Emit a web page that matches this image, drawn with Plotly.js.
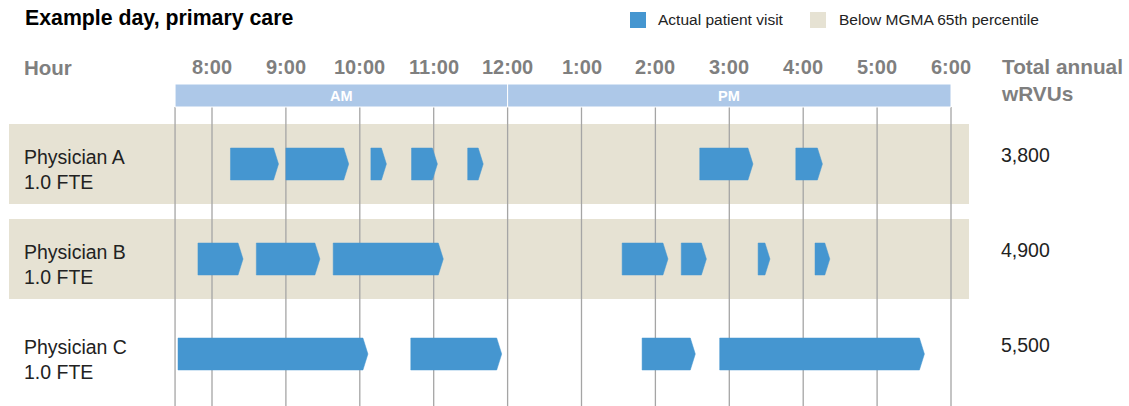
<!DOCTYPE html>
<html>
<head>
<meta charset="utf-8">
<script src="https://cdn.plot.ly/plotly-3.0.1.min.js"></script>
<style>
html,body{margin:0;padding:0;background:#fff;}
#chart{width:1129px;height:406px;}
</style>
</head>
<body>
<div id="chart"></div>
<script>
// ---- Data ----
const physicians = ['Physician A', 'Physician B', 'Physician C'];
const fteLabels = ['1.0 FTE', '1.0 FTE', '1.0 FTE'];
const totalWRVUs = ['3,800', '4,900', '5,500'];
const belowMGMA = [true, true, false];

const hourValues = [8, 9, 10, 11, 12, 13, 14, 15, 16, 17, 18];
const hourLabels = ['8:00', '9:00', '10:00', '11:00', '12:00', '1:00', '2:00', '3:00', '4:00', '5:00', '6:00'];
const dayStart = 7.5;

const periodLabels = ['AM', 'PM'];
const periodStart = [7.5, 12];
const periodEnd = [12, 18];

// visit start / end times (decimal hours, 24h clock)
const visitStartA = [8.25, 9.0, 10.15, 10.7, 11.46, 14.6, 15.9];
const visitEndA   = [8.9, 9.85, 10.36, 11.05, 11.67, 15.32, 16.26];
const visitStartB = [7.81, 8.6, 9.64, 13.55, 14.35, 15.39, 16.16];
const visitEndB   = [8.42, 9.46, 11.13, 14.17, 14.69, 15.55, 16.36];
const visitStartC = [7.54, 10.69, 13.82, 14.87];
const visitEndC   = [10.11, 11.92, 14.54, 17.64];

const visitStarts = [visitStartA, visitStartB, visitStartC];
const visitEnds = [visitEndA, visitEndB, visitEndC];

// ---- Style ----
const BLUE = '#4596d0';
const BEIGE = '#e6e2d3';
const AMPM = '#adc8e8';
const GRID = '#a5a5a5';
const HEAD = '#7f7f7f';
const FONT = '"Liberation Sans", Arial, Helvetica, sans-serif';

const W = 1129, H = 406;
const pxPerHour = 73.9;
const xMin = 8 - 212 / pxPerHour;
const xMax = xMin + W / pxPerHour;
const rowPx = 95, row0Px = 164;
const yTop = -row0Px / rowPx;
const yBot = yTop + H / rowPx;
const py = p => (p - row0Px) / rowPx;   // layout helper: pixel row -> y units

const tip = 5 / pxPerHour;
const half = 16 / rowPx;

// ---- Traces: arrow-shaped visits ----
const traces = [];
visitStarts.forEach((starts, r) => {
  const xs = [], ys = [];
  starts.forEach((s, i) => {
    const e = visitEnds[r][i];
    const b = Math.max(s, e - tip);
    xs.push(s, b, e, b, s, s, null);
    ys.push(r - half, r - half, r, r + half, r + half, r - half, null);
  });
  traces.push({
    type: 'scatter', mode: 'lines', x: xs, y: ys,
    fill: 'toself', fillcolor: BLUE,
    line: {color: BLUE, width: 0.5},
    hoverinfo: 'skip', showlegend: false
  });
});

// ---- Shapes ----
const shapes = [];
belowMGMA.forEach((b, r) => {
  if (b) shapes.push({type: 'rect', layer: 'below', xref: 'paper', yref: 'y',
    x0: 9 / W, x1: 969 / W, y0: r - 0.42, y1: r + 0.42, fillcolor: BEIGE, line: {width: 0}});
});
[dayStart].concat(hourValues).forEach(h => {
  shapes.push({type: 'line', layer: 'below', xref: 'x', yref: 'y',
    x0: h, x1: h, y0: py(107), y1: yBot + 0.1, line: {color: GRID, width: 1.3}});
});
periodLabels.forEach((p, i) => {
  shapes.push({type: 'rect', layer: 'below', xref: 'x', yref: 'y',
    x0: periodStart[i], x1: periodEnd[i], y0: py(84), y1: py(107),
    fillcolor: AMPM, line: {color: '#ffffff', width: 1}});
});
// legend swatches
shapes.push({type: 'rect', xref: 'paper', yref: 'paper', x0: 630 / W, x1: 646 / W,
  y0: 1 - 28 / H, y1: 1 - 12 / H, fillcolor: BLUE, line: {width: 0}});
shapes.push({type: 'rect', xref: 'paper', yref: 'paper', x0: 810 / W, x1: 826 / W,
  y0: 1 - 28 / H, y1: 1 - 12 / H, fillcolor: BEIGE, line: {width: 0}});

// ---- Annotations ----
const ann = [];
ann.push({text: '<b>Example day, primary care</b>', xref: 'paper', yref: 'paper',
  x: 23 / W, y: 1 - 18 / H, xanchor: 'left', yanchor: 'middle', showarrow: false,
  font: {family: FONT, size: 21.3, color: '#000'}});
ann.push({text: 'Actual patient visit', xref: 'paper', yref: 'paper',
  x: 656 / W, y: 1 - 19 / H, xanchor: 'left', yanchor: 'middle', showarrow: false,
  font: {family: FONT, size: 15.5, color: '#222'}});
ann.push({text: 'Below MGMA 65th percentile', xref: 'paper', yref: 'paper',
  x: 837 / W, y: 1 - 19 / H, xanchor: 'left', yanchor: 'middle', showarrow: false,
  font: {family: FONT, size: 15.5, color: '#222'}});
ann.push({text: '<b>Hour</b>', xref: 'paper', yref: 'y', x: 22 / W, y: py(67),
  xanchor: 'left', yanchor: 'middle', showarrow: false,
  font: {family: FONT, size: 20.5, color: HEAD}});
ann.push({text: '<b>Total annual<br>wRVUs</b>', xref: 'paper', yref: 'y', x: 999 / W, y: py(80),
  xanchor: 'left', yanchor: 'middle', align: 'left', showarrow: false,
  font: {family: FONT, size: 20.8, color: HEAD}});
hourValues.forEach((h, i) => {
  ann.push({text: '<b>' + hourLabels[i] + '</b>', xref: 'x', yref: 'y', x: h, y: py(67),
    xanchor: 'center', yanchor: 'middle', showarrow: false,
    font: {family: FONT, size: 20, color: HEAD}});
});
periodLabels.forEach((p, i) => {
  ann.push({text: '<b>' + p + '</b>', xref: 'x', yref: 'y', x: (periodStart[i] + periodEnd[i]) / 2,
    y: py(96), xanchor: 'center', yanchor: 'middle', showarrow: false,
    font: {family: FONT, size: 14.5, color: '#ffffff'}});
});
physicians.forEach((p, r) => {
  ann.push({text: p + '<br>' + fteLabels[r], xref: 'paper', yref: 'y', x: 22 / W, y: r,
    yshift: -5, xanchor: 'left', yanchor: 'middle', align: 'left', showarrow: false,
    font: {family: FONT, size: 19.5, color: '#222'}});
  ann.push({text: totalWRVUs[r], xref: 'paper', yref: 'y', x: 999 / W, y: r,
    yshift: 9.5, xanchor: 'left', yanchor: 'middle', showarrow: false,
    font: {family: FONT, size: 19.5, color: '#222'}});
});

const layout = {
  width: W, height: H,
  margin: {l: 0, r: 0, t: 0, b: 0, pad: 0},
  paper_bgcolor: '#fff', plot_bgcolor: 'rgba(0,0,0,0)',
  xaxis: {range: [xMin, xMax], visible: false, fixedrange: true},
  yaxis: {range: [yBot, yTop], visible: false, fixedrange: true},
  shapes: shapes, annotations: ann, showlegend: false
};

Plotly.newPlot('chart', traces, layout, {displayModeBar: false, staticPlot: true});
</script>
</body>
</html>
